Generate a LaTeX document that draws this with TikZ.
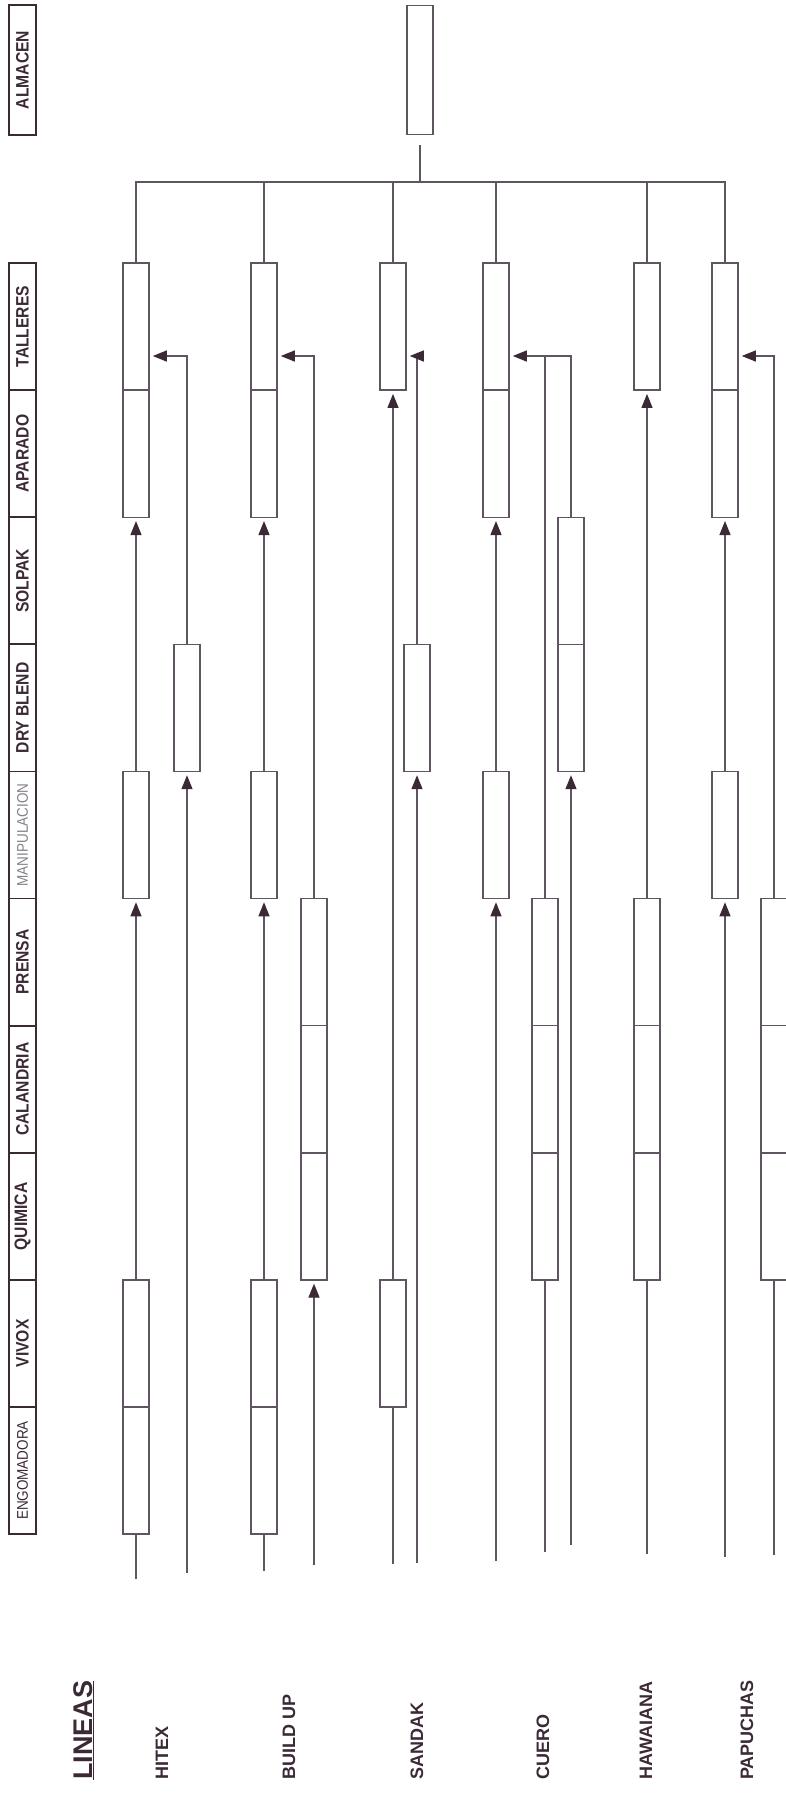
\documentclass[tikz,border=0pt]{standalone}
\usepackage{fontspec}
\setmainfont{Liberation Sans}
\newfontfamily\hdfont[FakeStretch=0.87]{Liberation Sans}
\usetikzlibrary{arrows.meta}
\definecolor{ink}{HTML}{5E5560}
\definecolor{dark}{HTML}{3B2A36}

\begin{document}
\begin{tikzpicture}[x=1pt,y=-1pt,
  cell/.style={draw=ink,line width=1.5pt,minimum width=26pt,minimum height=127.1pt,inner sep=0pt},
  hdr/.style={draw=dark,line width=1.8pt,rotate=90,minimum width=127.1pt,minimum height=27pt,inner sep=0pt,text=dark,font=\hdfont\bfseries\fontsize{18}{18}\selectfont},
  light/.style={hdr,font=\hdfont\fontsize{15.5}{16}\selectfont},
  linea/.style={rotate=90,anchor=base west,inner sep=0pt,text=dark,font=\bfseries\fontsize{18}{18}\selectfont},
  flow/.style={draw=ink,line width=1.2pt},
  feed/.style={flow,-{Triangle[length=14pt,width=11pt,color=dark]},shorten >=3pt}]
\useasboundingbox (0,0) rectangle (785,1794);

% process column
\node[hdr,minimum width=130pt] (hAlm) at (22.5,70) {ALMACEN};
\node[hdr] (hTal) at (22.5,326.6) {TALLERES};
\node[hdr] (hApa) at (22.5,453.7) {APARADO};
\node[hdr] (hSol) at (22.5,580.8) {SOLPAK};
\node[hdr] (hDry) at (22.5,707.9) {DRY BLEND};
\node[light,text=ink!75] (hMan) at (22.5,835.0) {MANIPULACION};
\node[hdr] (hPre) at (22.5,962.1) {PRENSA};
\node[hdr] (hCal) at (22.5,1089.2) {CALANDRIA};
\node[hdr] (hQui) at (22.5,1216.3) {QUIMICA};
\node[hdr] (hViv) at (22.5,1343.4) {VIVOX};
\node[light] (hEng) at (22.5,1470.5) {ENGOMADORA};

\coordinate (bus) at (0,182);
\coordinate (ret) at (0,356);
\node[cell,minimum height=129pt] (alm) at (420,70) {};

% hitex
\node[cell] (hiTal) at (136,0 |- hTal) {};
\node[cell] (hiApa) at (136,0 |- hApa) {};
\node[cell] (hiMan) at (136,0 |- hMan) {};
\node[cell] (hiViv) at (136,0 |- hViv) {};
\node[cell] (hiEng) at (136,0 |- hEng) {};
\node[cell] (hiDry) at (187,0 |- hDry) {};
\coordinate (hiEnd) at (136,1579);
\coordinate (hiEnd2) at (187,1573);

% build up
\node[cell] (buTal) at (264,0 |- hTal) {};
\node[cell] (buApa) at (264,0 |- hApa) {};
\node[cell] (buMan) at (264,0 |- hMan) {};
\node[cell] (buViv) at (264,0 |- hViv) {};
\node[cell] (buEng) at (264,0 |- hEng) {};
\node[cell] (buPre) at (314,0 |- hPre) {};
\node[cell] (buCal) at (314,0 |- hCal) {};
\node[cell] (buQui) at (314,0 |- hQui) {};
\coordinate (buEnd) at (264,1571);
\coordinate (buEnd2) at (314,1565);

% sandak
\node[cell] (saTal) at (393,0 |- hTal) {};
\node[cell] (saViv) at (393,0 |- hViv) {};
\node[cell] (saDry) at (417,0 |- hDry) {};
\coordinate (saEnd) at (393,1564);
\coordinate (saEnd2) at (417,1563);

% cuero
\node[cell] (cuTal) at (496,0 |- hTal) {};
\node[cell] (cuApa) at (496,0 |- hApa) {};
\node[cell] (cuMan) at (496,0 |- hMan) {};
\node[cell] (cuPre) at (545,0 |- hPre) {};
\node[cell] (cuCal) at (545,0 |- hCal) {};
\node[cell] (cuQui) at (545,0 |- hQui) {};
\node[cell] (cuSol) at (571,0 |- hSol) {};
\node[cell] (cuDry) at (571,0 |- hDry) {};
\coordinate (cuEnd) at (496,1561);
\coordinate (cuEnd2) at (545,1552);
\coordinate (cuEnd3) at (571,1545);

% hawaiana
\node[cell] (haTal) at (647,0 |- hTal) {};
\node[cell] (haPre) at (647,0 |- hPre) {};
\node[cell] (haCal) at (647,0 |- hCal) {};
\node[cell] (haQui) at (647,0 |- hQui) {};
\coordinate (haEnd) at (647,1554);

% papuchas
\node[cell] (paTal) at (725,0 |- hTal) {};
\node[cell] (paApa) at (725,0 |- hApa) {};
\node[cell] (paMan) at (725,0 |- hMan) {};
\node[cell] (paPre) at (774,0 |- hPre) {};
\node[cell] (paCal) at (774,0 |- hCal) {};
\node[cell] (paQui) at (774,0 |- hQui) {};
\coordinate (paEnd) at (725,1557);
\coordinate (paEnd2) at (774,1555);

% to almacen
\draw[flow,shorten <=10pt] (alm) -- (alm |- bus);
\draw[flow] (hiTal.north) |- (paTal.north |- bus) -- (paTal.north);
\draw[flow] (buTal) -- (buTal |- bus);
\draw[flow] (saTal) -- (saTal |- bus);
\draw[flow] (cuTal) -- (cuTal |- bus);
\draw[flow] (haTal) -- (haTal |- bus);

% flows
\draw[flow] (hiEnd) -- (hiEng);
\draw[feed] (hiViv) -- (hiMan);
\draw[feed] (hiMan) -- (hiApa);
\draw[feed] (hiEnd2) -- (hiDry);
\draw[feed] (hiDry.north) |- (hiTal.east |- ret);

\draw[flow] (buEnd) -- (buEng);
\draw[feed] (buViv) -- (buMan);
\draw[feed] (buMan) -- (buApa);
\draw[feed] (buEnd2) -- (buQui);
\draw[feed] (buPre.north) |- (buTal.east |- ret);

\draw[flow] (saEnd) -- (saViv);
\draw[feed] (saViv) -- (saTal);
\draw[feed] (saEnd2) -- (saDry);
\draw[feed] (saDry.north) |- (saTal.east |- ret);

\draw[feed] (cuEnd) -- (cuMan);
\draw[feed] (cuMan) -- (cuApa);
\draw[flow] (cuEnd2) -- (cuQui);
\draw[flow] (cuPre) -- (cuPre |- ret);
\draw[feed] (cuEnd3) -- (cuDry);
\draw[feed] (cuSol.north) |- (cuTal.east |- ret);

\draw[flow] (haEnd) -- (haQui);
\draw[feed] (haPre) -- (haTal);

\draw[feed] (paEnd) -- (paMan);
\draw[feed] (paMan) -- (paApa);
\draw[flow] (paEnd2) -- (paQui);
\draw[feed] (paPre.north) |- (paTal.east |- ret);

% lineas
\node[linea,font=\bfseries\fontsize{27}{27}\selectfont] (lLineas) at (92,1780) {\underline{LINEAS}};
\node[linea] (lHitex) at (168,1780) {HITEX};
\node[linea] (lBuild) at (295,1780) {BUILD UP};
\node[linea] (lSandak) at (423,1780) {SANDAK};
\node[linea] (lCuero) at (549,1780) {CUERO};
\node[linea] (lHawaiana) at (652,1780) {HAWAIANA};
\node[linea] (lPapuchas) at (753,1780) {PAPUCHAS};
\end{tikzpicture}
\end{document}
